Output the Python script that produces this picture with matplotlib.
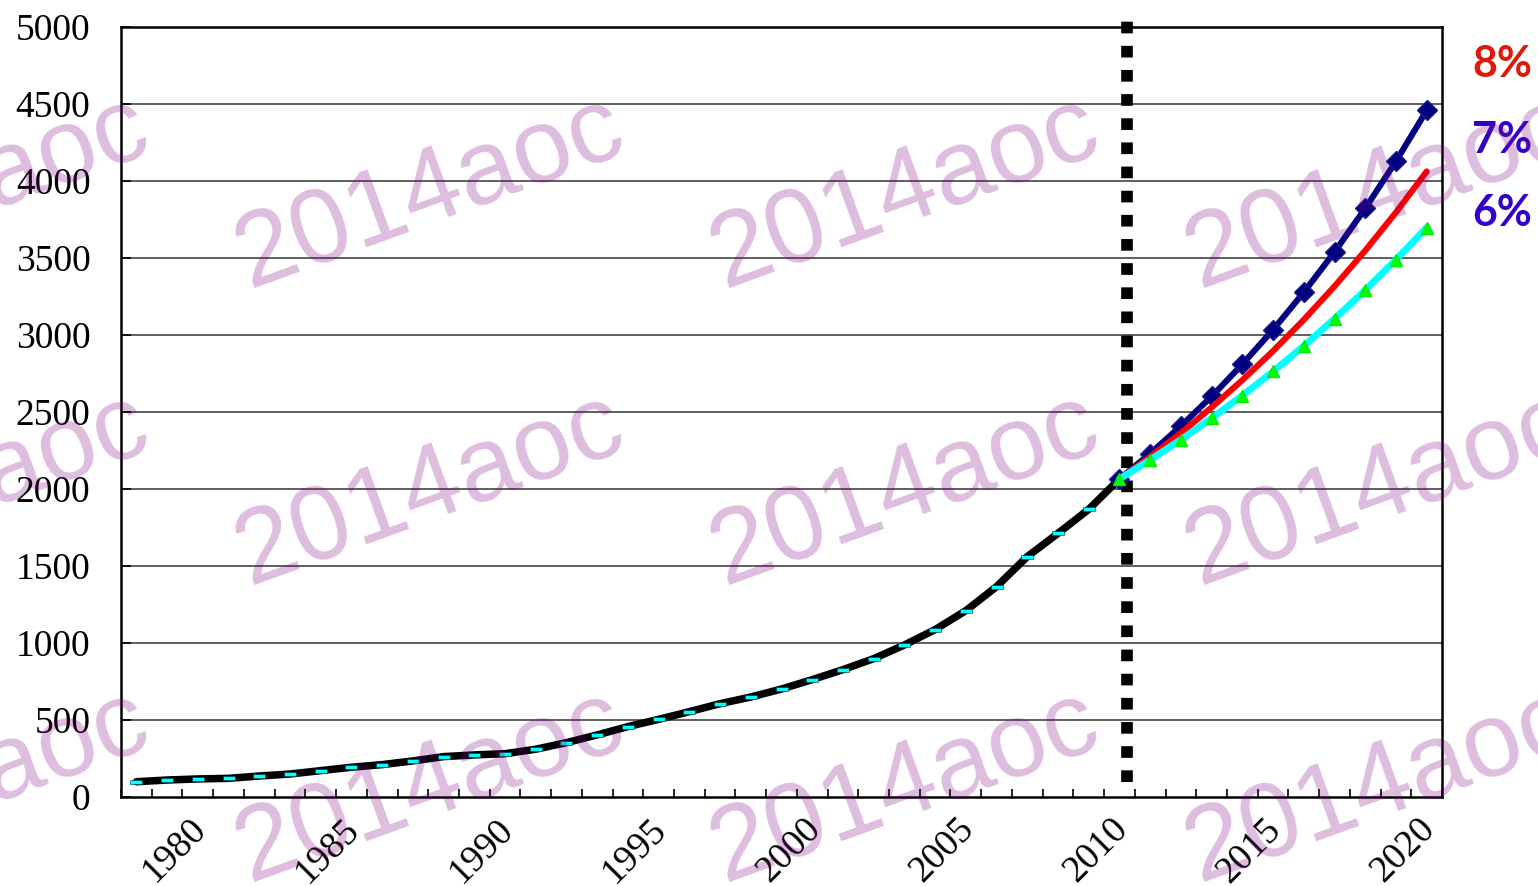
import matplotlib
matplotlib.use("Agg")
import matplotlib.pyplot as plt
from matplotlib.transforms import ScaledTranslation

# data
years = list(range(1978, 2021))
hist_years = list(range(1978, 2011))
hist_vals = [99, 110, 117, 121, 136, 149, 171, 193, 210, 234, 262, 273, 281,
             310, 353, 403, 457, 504, 554, 606, 649, 701, 762, 827, 898, 987,
             1087, 1210, 1366, 1561, 1712, 1868, 2065]
proj_years = list(range(2010, 2021))
proj_8 = [2065, 2230, 2409, 2601, 2810, 3034, 3277, 3539, 3822, 4128, 4458]
proj_7 = [2065, 2210, 2364, 2530, 2707, 2896, 3099, 3316, 3548, 3796, 4062]
proj_6 = [2065, 2189, 2320, 2459, 2607, 2763, 2929, 3105, 3291, 3489, 3698]
label_years = [1980, 1985, 1990, 1995, 2000, 2005, 2010, 2015, 2020]
rate_labels = ["8%", "7%", "6%"]
yticks = list(range(0, 5001, 500))


def idx(ys):
    # category axis: one slot per year
    return [years.index(y) for y in ys]


fig = plt.figure(figsize=(15.38, 8.86), dpi=100)
ax = fig.add_axes([0.0787, 0.1005, 0.8589, 0.869])

ax.set_xlim(-0.5, len(years) - 0.5)
ax.set_ylim(0, 5000)

# horizontal grid
for v in yticks[1:]:
    ax.axhline(v, color="#333333", lw=1.1, zorder=1)

# historical series: thick black line with cyan dash markers
dash = [(-1, -0.42), (1, -0.42), (1, 0.42), (-1, 0.42), (-1, -0.42)]
ax.plot(idx(hist_years), hist_vals, color="black", lw=5.4,
        solid_capstyle="round", solid_joinstyle="round", zorder=3)
ax.plot(idx(hist_years), hist_vals, ls="none", marker=dash, ms=8.5,
        mfc="#00FFFF", mec="#0a3a3a", mew=0.4, zorder=4)

# 2010 divider
x_div = idx([2010])[0] + 0.25
ax.plot([x_div, x_div], [100, 5080], color="black", lw=8.4,
        ls=(0, (1, 1.07)), dash_capstyle="butt", clip_on=False, zorder=2.5)

# projections
ax.plot(idx(proj_years), proj_8, color="#000080", lw=4.4, marker="D", ms=10,
        mfc="#000080", mec="#1a1a8c", solid_capstyle="round", zorder=5)
ax.plot(idx(proj_years), proj_7, color="#FF0000", lw=4.4,
        solid_capstyle="round", zorder=6)
ax.plot(idx(proj_years), proj_6, color="#00FFFF", lw=5.0, marker="^", ms=8,
        mfc="#00FF00", mec="#00EE00", solid_capstyle="round", zorder=7)

# axes styling
for s in ax.spines.values():
    s.set_linewidth(1.8)
    s.set_color("black")

ax.set_yticks(yticks)
ax.set_yticklabels([str(v) for v in yticks], fontsize=27,
                   family="Liberation Serif")
ax.tick_params(axis="y", direction="in", length=7, width=1.2, pad=22)

ax.set_xticks([i + 0.5 for i in range(-1, len(years))], minor=True)
ax.set_xticks(idx(label_years))
ax.set_xticklabels([str(y) for y in label_years], fontsize=27,
                   family="Liberation Serif", rotation=45, ha="right",
                   va="center", rotation_mode="anchor")
ax.tick_params(axis="x", which="major", length=0, pad=19.5)
ax.tick_params(axis="x", which="minor", direction="in", length=6, width=1.2)
shift = ScaledTranslation(3 / 100, 0, fig.dpi_scale_trans)
for lbl in ax.get_xticklabels():
    lbl.set_transform(lbl.get_transform() + shift)

# growth-rate labels
rate_colors = ["#DD1A0C", "#3300CC", "#3300CC"]
rate_base = [77, 153, 226]
for t, c, yy in zip(rate_labels, rate_colors, rate_base):
    fig.text(1532 / 1538, 1 - yy / 886, t, color=c, fontsize=31,
             fontweight="bold", family="Lato", ha="right", va="baseline")

# watermark
for cx in [-45, 430, 905, 1380]:
    for cy in [193, 490, 787]:
        fig.text(cx / 1538, 1 - cy / 886, "2014aoc", fontsize=76,
                 family="Liberation Sans", color="#800080", alpha=0.26,
                 rotation=20, rotation_mode="anchor",
                 ha="center", va="center", zorder=10)

fig.savefig("out.png", dpi=100, facecolor="white")
